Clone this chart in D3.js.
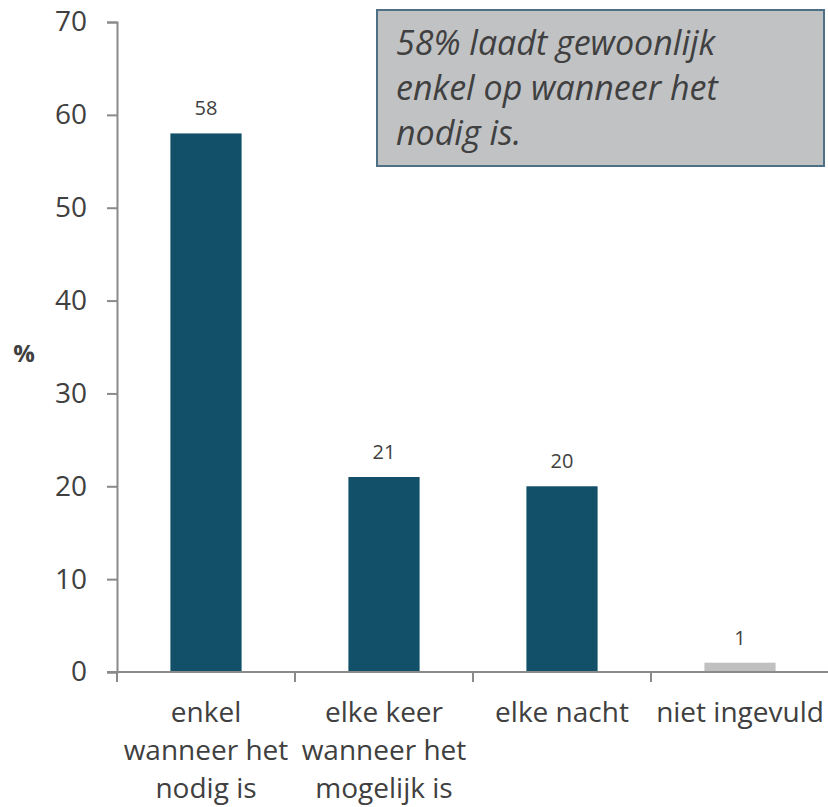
<!DOCTYPE html>
<html>
<head>
<meta charset="utf-8">
<script src="https://cdn.jsdelivr.net/npm/d3@7"></script>
<style>
  body { margin: 0; background: #fff; }
  text { font-family: "Open Sans", "Noto Sans", sans-serif; fill: #404040; }
</style>
</head>
<body>
<div class="chart"></div>
<script>
// data
const categories = [
    ["enkel", "wanneer het", "nodig is"],
    ["elke keer", "wanneer het", "mogelijk is"],
    ["elke nacht"],
    ["niet ingevuld"]
]
const values = [58, 21, 20, 1]
const barColors = ["#12506a", "#12506a", "#12506a", "#c0c0c0"]
const yTicks = [0, 10, 20, 30, 40, 50, 60, 70]
const note = ["58% laadt gewoonlijk", "enkel op wanneer het", "nodig is."]

const width = 828
const height = 807
const margin = {top: 22, right: 0, bottom: 135, left: 117}

const svg = d3.select(".chart")
    .append("svg")
    .attr("width", width)
    .attr("height", height)

const x = d3.scaleBand()
    .domain(d3.range(values.length))
    .range([margin.left, width + 1])
    .paddingInner(0.6)
    .paddingOuter(0.3)

const y = d3.scaleLinear()
    .domain([0, 70])
    .range([height - margin.bottom, margin.top])

// y axis
const yAxis = svg.append("g")
    .attr("transform", `translate(${margin.left},0)`)
    .call(d3.axisLeft(y).tickValues(yTicks).tickSize(10).tickPadding(20))
yAxis.select(".domain").attr("stroke", "#8a8a8a").attr("stroke-width", 2)
yAxis.selectAll(".tick line").attr("stroke", "#8a8a8a").attr("stroke-width", 2)
yAxis.selectAll(".tick text")
    .style("font-size", "28px")
    .attr("fill", "#404040")
    .style("font-family", "'Open Sans', sans-serif")

svg.append("text")
    .attr("x", 24)
    .attr("y", 362)
    .attr("text-anchor", "middle")
    .style("font-size", "24px")
    .style("font-weight", "bold")
    .text("%")

// bars
svg.selectAll(".bar")
    .data(values)
    .join("rect")
    .attr("class", "bar")
    .attr("x", (d, i) => x(i))
    .attr("y", d => y(d))
    .attr("width", x.bandwidth())
    .attr("height", d => y(0) - y(d))
    .attr("fill", (d, i) => barColors[i])

svg.selectAll(".val")
    .data(values)
    .join("text")
    .attr("class", "val")
    .attr("x", (d, i) => x(i) + x.bandwidth() / 2)
    .attr("y", d => y(d) - 18)
    .attr("text-anchor", "middle")
    .style("font-size", "20px")
    .text(d => d)

// x axis line and dividers
const x0 = y(0)
const step = x.step()
svg.append("line")
    .attr("x1", margin.left - 10).attr("x2", width)
    .attr("y1", x0).attr("y2", x0)
    .attr("stroke", "#8a8a8a").attr("stroke-width", 2)
svg.selectAll(".xtick")
    .data(d3.range(values.length))
    .join("line")
    .attr("class", "xtick")
    .attr("x1", i => x(i) - step * 0.3).attr("x2", i => x(i) - step * 0.3)
    .attr("y1", x0).attr("y2", x0 + 10)
    .attr("stroke", "#8a8a8a").attr("stroke-width", 2)

// category labels
const cat = svg.selectAll(".cat")
    .data(categories)
    .join("text")
    .attr("class", "cat")
    .attr("text-anchor", "middle")
    .style("font-size", "28px")
cat.selectAll("tspan")
    .data((d, i) => d.map(t => ({t, i})))
    .join("tspan")
    .attr("x", d => x(d.i) + x.bandwidth() / 2)
    .attr("y", (d, j) => 722 + j * 38)
    .text(d => d.t)

// annotation box
svg.append("rect")
    .attr("x", 377).attr("y", 10)
    .attr("width", 447).attr("height", 156)
    .attr("fill", "#c1c2c4")
    .attr("stroke", "#4e7085")
    .attr("stroke-width", 2)
svg.append("text")
    .style("font-size", "34px")
    .style("font-style", "italic")
    .attr("fill", "#333")
    .selectAll("tspan")
    .data(note)
    .join("tspan")
    .attr("x", 396)
    .attr("y", (d, i) => 55 + i * 45)
    .text(d => d)
</script>
</body>
</html>
